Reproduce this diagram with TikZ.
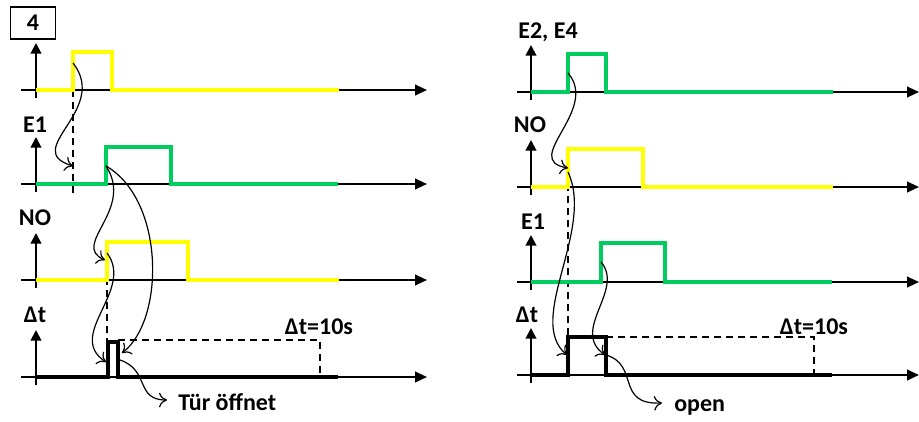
\documentclass[tikz,border=0pt]{standalone}
\usepackage{fontspec}
\setmainfont{Carlito}
\usetikzlibrary{arrows.meta}
\definecolor{sigyellow}{RGB}{255,255,0}
\definecolor{siggreen}{RGB}{0,204,96}

\begin{document}
\begin{tikzpicture}[x=0.75pt,y=-0.75pt,
  axis/.style={line width=1.5pt,-{Triangle[length=9pt,width=8pt]}},
  yaxis/.style={line width=1.5pt,-{Triangle[length=8pt,width=8pt]}},
  ylw/.style={sigyellow,line width=3pt},
  grn/.style={siggreen,line width=3pt},
  pulse/.style={black,line width=3pt},
  guide/.style={line width=1pt,dash pattern=on 5pt off 4pt},
  cause/.style={line width=0.9pt,-{To[length=6pt,width=11pt]}},
  lbl/.style={font=\bfseries\fontsize{18}{20}\selectfont,inner sep=0pt}]
  \useasboundingbox (0,0) rectangle (919,421);

  % left: door opens
  \node[lbl,draw,line width=1.2pt,minimum width=34pt,minimum height=24pt] (num) at (33,23) {4};
  \foreach \y in {90,184,280,377} {
    \draw[axis] (21,\y) -- (427,\y);
    \draw[yaxis] (36,\y+8) -- (36,\y-47);
  }
  \node[lbl] (lE1) at (35,125) {E1};
  \node[lbl] (lNO) at (35,218) {NO};
  \node[lbl] (ldt) at (35,315) {Δt};
  \draw[guide] (73,90) -- (73,193);
  \draw[guide] (107,242) -- (107,377);
  \draw[guide] (118,340) -- (320,340) -- (320,377);
  \draw[ylw] (36,90) -- (73,90) -- (73,52) -- (112,52) -- (112,90) -- (339,90);
  \draw[grn] (36,184) -- (106,184) -- (106,147) -- (171,147) -- (171,184) -- (338,184);
  \draw[ylw] (36,280) -- (107,280) -- (107,242) -- (188,242) -- (188,280) -- (339,280);
  \draw[pulse] (36,377) -- (108,377) -- (108,342) -- (118,342) -- (118,377) -- (338,377);
  \node[lbl] (lten) at (319,327) {Δt=10s};
  \node[lbl,anchor=west] (door) at (178,402) {Tür öffnet};
  \coordinate (a1) at (73,63);
  \coordinate (a2) at (73,166);
  \coordinate (b1) at (106,166);
  \coordinate (b2) at (105,260);
  \coordinate (b3) at (122,353);
  \coordinate (c1) at (107,253);
  \coordinate (c2) at (106,362);
  \coordinate (d1) at (120,360);
  \coordinate (d2) at (167,400);
  \draw[cause] (a1) .. controls (110,110) and (20,150) .. (a2);
  \draw[cause] (b1) .. controls (135,210) and (70,245) .. (b2);
  \draw[cause] (b1) .. controls (165,200) and (165,320) .. (b3);
  \draw[cause] (c1) .. controls (135,290) and (65,335) .. (c2);
  \draw[cause] (d1) .. controls (150,370) and (135,400) .. (d2);

  % right: open
  \foreach \y in {92,187,282,375} {
    \draw[axis] (517,\y) -- (919,\y);
    \draw[yaxis] (531,\y+8) -- (531,\y-47);
  }
  \node[lbl] (rE24) at (548,32) {E2, E4};
  \node[lbl] (rNO) at (530,125) {NO};
  \node[lbl] (rE1) at (533,222) {E1};
  \node[lbl] (rdt) at (527,315) {Δt};
  \draw[guide] (568,160) -- (568,337);
  \draw[guide] (606,337) -- (814,337) -- (814,375);
  \draw[grn] (531,92) -- (568,92) -- (568,54) -- (606,54) -- (606,92) -- (833,92);
  \draw[ylw] (531,187) -- (568,187) -- (568,149) -- (643,149) -- (643,187) -- (833,187);
  \draw[grn] (531,282) -- (601,282) -- (601,243) -- (665,243) -- (665,282) -- (832,282);
  \draw[pulse] (531,375) -- (568,375) -- (568,337) -- (606,337) -- (606,375) -- (832,375);
  \node[lbl] (rten) at (814,327) {Δt=10s};
  \node[lbl,anchor=west] (open) at (674,407) {open};
  \coordinate (e1) at (568,73);
  \coordinate (e2) at (568,168);
  \coordinate (f1) at (568,172);
  \coordinate (f2) at (567,355);
  \coordinate (g1) at (601,262);
  \coordinate (g2) at (605,355);
  \coordinate (h1) at (606,355);
  \coordinate (h2) at (662,403);
  \draw[cause] (e1) .. controls (600,110) and (520,160) .. (e2);
  \draw[cause] (f1) .. controls (595,230) and (525,320) .. (f2);
  \draw[cause] (g1) .. controls (625,290) and (570,330) .. (g2);
  \draw[cause] (h1) .. controls (640,365) and (615,405) .. (h2);
\end{tikzpicture}
\end{document}
